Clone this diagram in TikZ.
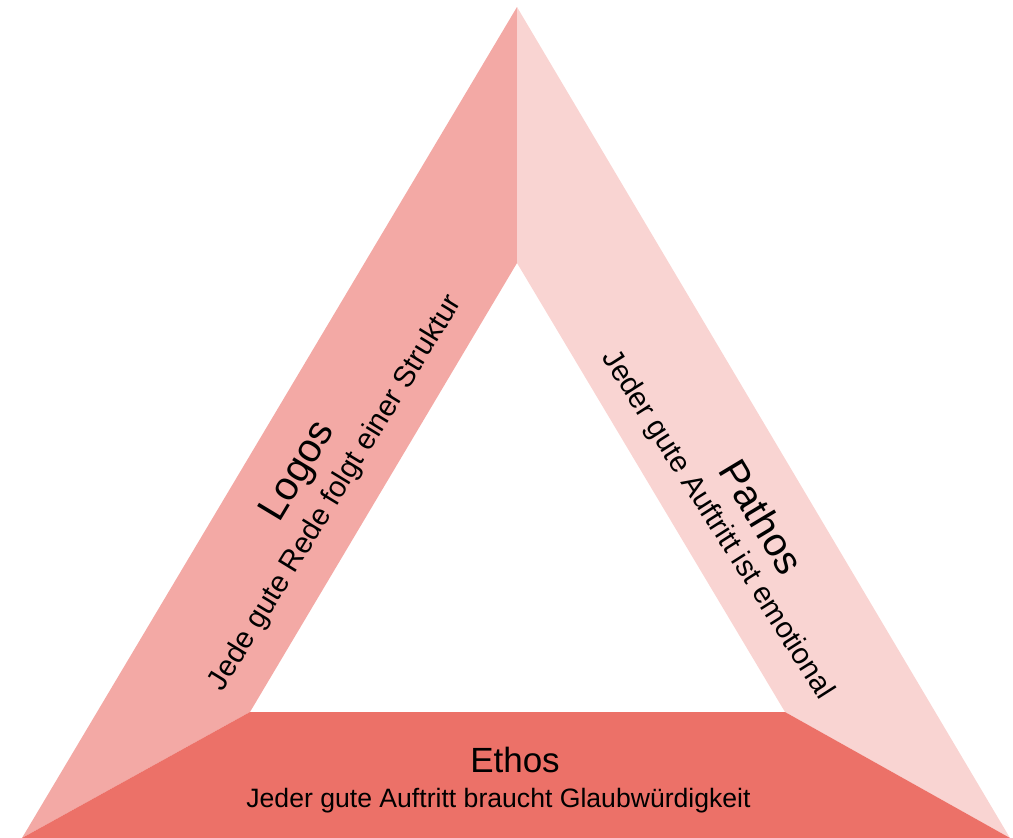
\documentclass[tikz,border=0pt]{standalone}
\usepackage{fontspec}
\setmainfont{Liberation Sans}
\definecolor{logoscol}{RGB}{243,169,165}
\definecolor{pathoscol}{RGB}{249,212,210}
\definecolor{ethoscol}{RGB}{236,113,104}
\begin{document}
\begin{tikzpicture}[x=1pt,y=-1pt,
  title/.style={inner sep=0pt,font=\fontsize{40}{42}\selectfont},
  sub/.style={inner sep=0pt,font=\fontsize{29.5}{31}\selectfont}]
\useasboundingbox (0,0) rectangle (1013,838);
\coordinate (top) at (517,7);
\coordinate (itop) at (517,263);
\coordinate (bl) at (22,838);
\coordinate (ibl) at (250,712);
\coordinate (br) at (1010,838);
\coordinate (ibr) at (785,712);
\fill[logoscol] (top) -- (itop) -- (ibl) -- (bl) -- cycle;
\fill[pathoscol] (top) -- (itop) -- (ibr) -- (br) -- cycle;
\fill[ethoscol] (bl) -- (ibl) -- (ibr) -- (br) -- cycle;
\node[title,rotate=59] (logos) at (299,472) {Logos};
\node[sub,rotate=58.5] (logossub) at (336,493) {Jede gute Rede folgt einer Struktur};
\node[title,rotate=-59] (pathos) at (762,517) {Pathos};
\node[sub,rotate=-57.5] (pathossub) at (717,525) {Jeder gute Auftritt ist emotional};
\node[title,font=\fontsize{35}{37}\selectfont] (ethos) at (515,760) {Ethos};
\node[sub,font=\fontsize{26.6}{28}\selectfont] (ethossub) at (498.5,801) {Jeder gute Auftritt braucht Glaubwürdigkeit};
\end{tikzpicture}
\end{document}
